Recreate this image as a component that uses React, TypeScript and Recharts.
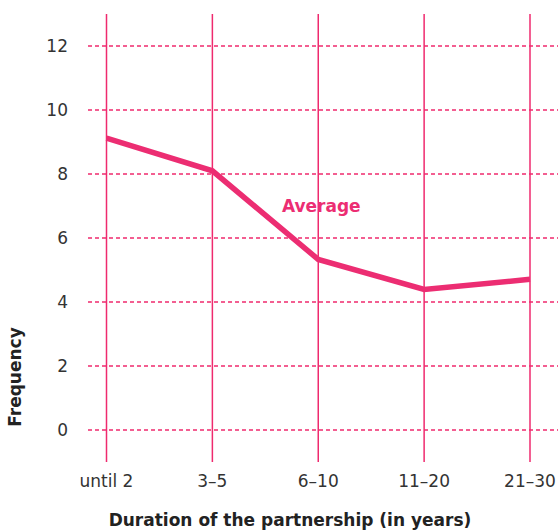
import React from "react";
import {
  LineChart,
  Line,
  XAxis,
  YAxis,
  CartesianGrid,
  ReferenceDot,
  Label,
} from "recharts";

const categories = ["until 2", "3–5", "6–10", "11–20", "21–30"];
const averageValues = [9.12, 8.1, 5.33, 4.39, 4.71];
const yTicks = [0, 2, 4, 6, 8, 10, 12];

const PINK = "#ef2a6e";
const LINE_PINK = "#ec2d72";
const FONT = "'DejaVu Sans', Roboto, sans-serif";

const data = categories.map((name, i) => ({ name, value: averageValues[i] }));

export default function App() {
  return (
    <div style={{ position: "absolute", left: 0, top: 0, width: 558, height: 532, background: "#fff" }}>
      <LineChart
        width={558}
        height={532}
        data={data}
        margin={{ top: 14, right: 0, bottom: 0, left: 28 }}
      >
        <CartesianGrid
          horizontal={false}
          syncWithTicks
          stroke={PINK}
          strokeWidth={1.5}
        />
        <CartesianGrid
          vertical={false}
          syncWithTicks
          stroke={PINK}
          strokeWidth={1.3}
          strokeDasharray="4 3"
        />
        <XAxis
          dataKey="name"
          axisLine={false}
          tickLine={false}
          tickSize={0}
          tickMargin={13}
          height={70}
          padding={{ left: 18.5, right: 28 }}
          interval={0}
          tick={{ fill: "#333", fontSize: 17, fontFamily: FONT }}
        >
          <Label
            content={() => (
              <text
                x={290}
                y={526}
                textAnchor="middle"
                fill="#222"
                fontSize={17}
                fontWeight={700}
                fontFamily={FONT}
              >
                Duration of the partnership (in years)
              </text>
            )}
          />
        </XAxis>
        <YAxis
          width={60}
          domain={[-1, 13]}
          ticks={yTicks}
          axisLine={false}
          tickLine={false}
          tickSize={0}
          tickMargin={20}
          tick={{ fill: "#333", fontSize: 17, fontFamily: FONT }}
        >
          <Label
            content={() => (
              <text
                x={21}
                y={377}
                transform="rotate(-90 21 377)"
                textAnchor="middle"
                fill="#222"
                fontSize={17}
                fontWeight={700}
                fontFamily={FONT}
              >
                Frequency
              </text>
            )}
          />
        </YAxis>
        <Line
          type="linear"
          dataKey="value"
          stroke={LINE_PINK}
          strokeWidth={5.5}
          dot={false}
          activeDot={false}
          isAnimationActive={false}
        />
        <ReferenceDot
          x="6–10"
          y={7}
          r={0}
          stroke="none"
          fill="none"
          label={{
            value: "Average",
            position: "center",
            fill: LINE_PINK,
            fontSize: 17,
            fontWeight: 700,
            fontFamily: FONT,
            dx: 3,
          }}
        />
      </LineChart>
    </div>
  );
}
